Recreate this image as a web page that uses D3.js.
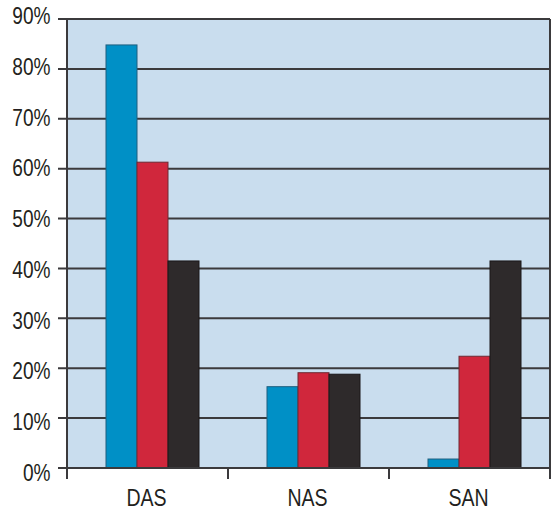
<!DOCTYPE html>
<html>
<head>
<meta charset="utf-8">
<script src="https://cdn.jsdelivr.net/npm/d3@7"></script>
<style>
  html, body { margin: 0; padding: 0; background: #ffffff; }
  svg { display: block; }
  text { font-family: "Liberation Sans", Arial, sans-serif; fill: #231f20; }
</style>
</head>
<body>
<svg id="chart" width="553" height="514"></svg>
<script>
const categories = ["DAS", "NAS", "SAN"];
const seriesNames = ["s1", "s2", "s3"];
const seriesColors = ["#0090c6", "#d0273c", "#2e2a2b"];
const seriesStrokes = ["#1f5f7f", "#6e2a33", "#1a1718"];
const values = {
  s1: [84.8, 16.3, 1.8],
  s2: [61.3, 19.1, 22.4],
  s3: [41.5, 18.8, 41.5]
};
const yTicks = [0, 10, 20, 30, 40, 50, 60, 70, 80, 90];

(function () {
const svg = d3.select("#chart");
const mLeft = 67, mRight = 550, mTop = 19, mBottom = 468;
const condense = 0.83;

const x = d3.scaleBand().domain(categories).range([mLeft, mRight]).paddingInner(0).paddingOuter(0);
const xInner = d3.scaleBand().domain(seriesNames).range([39, 39 + 93]).padding(0);
const y = d3.scaleLinear().domain([0, 90]).range([mBottom, mTop]);
// tick labels in the reference are spaced slightly wider than the grid
const yLabel = d3.scaleLinear().domain([0, 90]).range([472.5, 16]);

// background
svg.append("rect")
  .attr("x", mLeft).attr("y", mTop)
  .attr("width", mRight - mLeft).attr("height", mBottom - mTop)
  .attr("fill", "#c9ddee");

// gridlines + left ticks
svg.append("g").selectAll("line").data(yTicks).join("line")
  .attr("x1", mLeft - 9).attr("x2", mRight)
  .attr("y1", d => y(d)).attr("y2", d => y(d))
  .attr("stroke", "#3b3a3c").attr("stroke-width", 2);

// bars
const data = [];
categories.forEach((c, i) => seriesNames.forEach((s, j) => data.push({ c, s, j, v: values[s][i] })));
svg.append("g").selectAll("rect").data(data).join("rect")
  .attr("x", d => x(d.c) + xInner(d.s))
  .attr("y", d => y(d.v))
  .attr("width", xInner.bandwidth())
  .attr("height", d => y(0) - y(d.v))
  .attr("fill", d => seriesColors[d.j])
  .attr("stroke", d => seriesStrokes[d.j])
  .attr("stroke-width", 1);

// frame
const stroke = "#3b3a3c";
svg.append("line").attr("x1", mLeft).attr("x2", mRight).attr("y1", mTop).attr("y2", mTop)
  .attr("stroke", stroke).attr("stroke-width", 2);
svg.append("line").attr("x1", mRight).attr("x2", mRight).attr("y1", mTop).attr("y2", mBottom + 11)
  .attr("stroke", stroke).attr("stroke-width", 2);
svg.append("line").attr("x1", mLeft).attr("x2", mLeft).attr("y1", mTop).attr("y2", mBottom + 11)
  .attr("stroke", stroke).attr("stroke-width", 2);
svg.append("line").attr("x1", mLeft - 9).attr("x2", mRight).attr("y1", mBottom).attr("y2", mBottom)
  .attr("stroke", stroke).attr("stroke-width", 2);

// bottom category separator ticks
const sepPositions = categories.slice(1).map(c => x(c));
svg.append("g").selectAll("line").data(sepPositions).join("line")
  .attr("x1", d => d).attr("x2", d => d)
  .attr("y1", mBottom).attr("y2", mBottom + 11)
  .attr("stroke", stroke).attr("stroke-width", 2);

// y labels
svg.append("g").selectAll("text").data(yTicks).join("text")
  .attr("transform", d => `translate(50.5,${yLabel(d) + 8.2}) scale(${condense},1)`)
  .attr("text-anchor", "end")
  .attr("font-size", 23)
  .text(d => d + "%");

// x labels
svg.append("g").selectAll("text").data(categories).join("text")
  .attr("transform", d => `translate(${x(d) + x.bandwidth() / 2 - 1},506) scale(0.85,1)`)
  .attr("text-anchor", "middle")
  .attr("font-size", 23)
  .text(d => d);
})();
</script>
</body>
</html>
